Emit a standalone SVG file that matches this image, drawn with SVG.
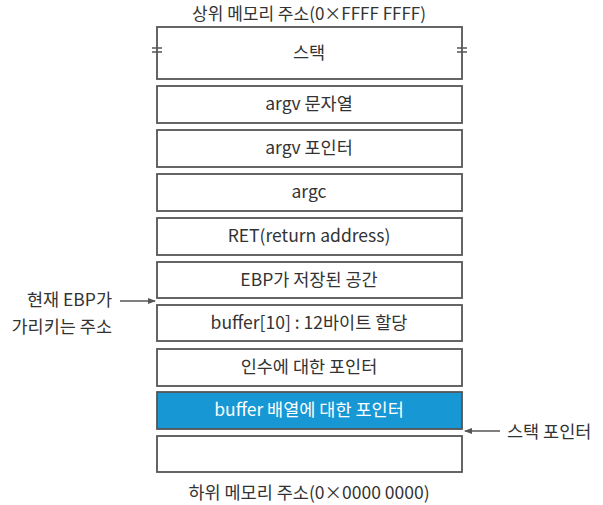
<svg xmlns="http://www.w3.org/2000/svg" width="603" height="505" viewBox="0 0 603 505">
<defs>
<style>
text{font-family:"Noto Sans CJK KR","Noto Sans",sans-serif;font-size:17.5px;fill:#333;}
.c{text-anchor:middle;}
.t{font-size:17px;}
.box{fill:#fff;stroke:#555;stroke-width:1.8;}
.blue{fill:#1798d5;stroke:#555;stroke-width:1.8;}
.w{fill:#fff;}
.ln{stroke:#555;stroke-width:1.5;fill:none;}
</style>
<marker id="ah" markerWidth="8" markerHeight="8" refX="7" refY="4" orient="auto" markerUnits="userSpaceOnUse">
<path d="M0,1 L8,4 L0,7 Z" fill="#555"/>
</marker>
</defs>
<rect width="603" height="505" fill="#fff"/>
<text class="c t" x="309" y="20">상위 메모리 주소(0×FFFF FFFF)</text>
<g id="n1"><rect class="box" x="157" y="27" width="305" height="52"/><text class="c" x="309" y="59">스택</text>
<path class="ln" d="M152,48 H162 M152,52 H162 M457,48 H467 M457,52 H467"/></g>
<g id="n2"><rect class="box" x="157" y="86" width="305" height="37"/><text class="c" x="309" y="110">argv 문자열</text></g>
<g id="n3"><rect class="box" x="157" y="130" width="305" height="37"/><text class="c" x="309" y="154">argv 포인터</text></g>
<g id="n4"><rect class="box" x="157" y="174" width="305" height="37"/><text class="c" x="309" y="198">argc</text></g>
<g id="n5"><rect class="box" x="157" y="218" width="305" height="37"/><text class="c" x="309" y="242">RET(return address)</text></g>
<g id="n6"><rect class="box" x="157" y="262" width="305" height="36"/><text class="c" x="309" y="286">EBP가 저장된 공간</text></g>
<g id="n7"><rect class="box" x="157" y="305" width="305" height="36"/><text class="c" x="309" y="329">buffer[10] : 12바이트 할당</text></g>
<g id="n8"><rect class="box" x="157" y="349" width="305" height="37"/><text class="c" x="309" y="373">인수에 대한 포인터</text></g>
<g id="n9"><rect class="blue" x="157" y="392" width="305" height="37"/><text class="c w" x="309" y="416">buffer 배열에 대한 포인터</text></g>
<g id="n10"><rect class="box" x="157" y="436" width="305" height="36"/></g>
<text class="c" x="309" y="499">하위 메모리 주소(0×0000 0000)</text>
<g id="lbl1"><text x="112" y="306" text-anchor="end">현재 EBP가</text><text x="112" y="333" text-anchor="end">가리키는 주소</text></g>
<g id="lbl2"><text x="507" y="438">스택 포인터</text></g>
<g id="connectors">
<line class="ln" x1="120" y1="301" x2="155" y2="301" marker-end="url(#ah)"/>
<line class="ln" x1="500" y1="431" x2="465" y2="431" marker-end="url(#ah)"/>
</g>
</svg>
